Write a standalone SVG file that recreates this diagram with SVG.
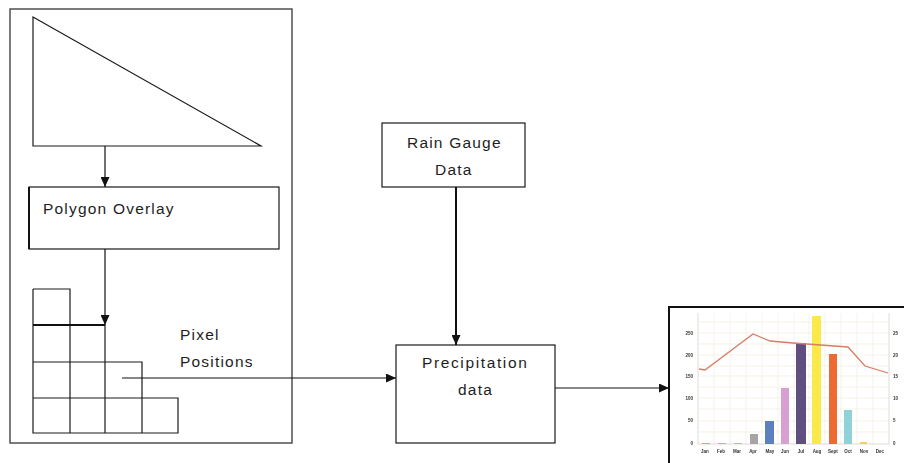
<svg xmlns="http://www.w3.org/2000/svg" width="904" height="463" viewBox="0 0 904 463">
  <style>
    .box { fill: #fff; stroke: #1a1a1a; stroke-width: 1.2; }
    .frame { fill: none; stroke: #444; stroke-width: 1.4; }
    .ln { fill: none; stroke: #1a1a1a; stroke-width: 1.2; }
    .lbl { font-family: "Liberation Sans", Arial, sans-serif; font-size: 15.5px; letter-spacing: 1.2px; fill: #1e1e1e; }
    .tiny { font-family: "Liberation Sans", Arial, sans-serif; font-size: 4.5px; fill: #333; font-weight: bold; }
    .grid { stroke: #f1e9d6; stroke-width: 0.6; fill: none; }
  </style>
  <defs>
    <marker id="arrow" markerUnits="userSpaceOnUse" markerWidth="10" markerHeight="9" refX="10" refY="4.5" orient="auto">
      <path d="M0,0 L10,4.5 L0,9 z" fill="#111"/>
    </marker>
    <filter id="soft" x="-5%" y="-5%" width="110%" height="110%">
      <feGaussianBlur stdDeviation="0.45"/>
    </filter>
  </defs>

  <rect width="904" height="463" fill="#fff"/>

  <!-- left panel frame -->
  <g id="panel">
    <rect class="frame" x="10" y="9" width="282" height="434"/>
  </g>

  <!-- polygon shape -->
  <g id="polygon">
    <path class="ln" d="M33,17 L33,146 L261,146 Z"/>
  </g>

  <!-- polygon overlay step -->
  <g id="overlay">
    <rect class="box" x="29" y="187" width="250" height="62"/>
    <line x1="29" y1="187" x2="29" y2="249" stroke="#111" stroke-width="2"/>
    <text class="lbl" x="43" y="214">Polygon Overlay</text>
  </g>

  <!-- pixel grid -->
  <g id="pixels">
    <path class="ln" d="M33,289 H70 V433 M33,289 V433 H178 V398 H33 M33,362 H142 V433 M105,325 V433 M70,325 H105"/>
    <line x1="33" y1="325" x2="105" y2="325" stroke="#111" stroke-width="2.2"/>
    <text class="lbl" x="180" y="340">Pixel</text>
    <text class="lbl" x="180" y="367">Positions</text>
  </g>

  <!-- rain gauge input -->
  <g id="rain-gauge">
    <rect class="box" x="382" y="123" width="143" height="64"/>
    <text class="lbl" x="407" y="148">Rain Gauge</text>
    <text class="lbl" x="435" y="175">Data</text>
  </g>

  <!-- precipitation data -->
  <g id="precipitation">
    <rect class="box" x="396" y="345" width="159" height="98"/>
    <text class="lbl" x="422" y="368" textLength="106" lengthAdjust="spacing">Precipitation</text>
    <text class="lbl" x="458" y="395">data</text>
  </g>

  <!-- output chart -->
  <g id="chart">
    <rect x="669" y="307" width="240" height="160" fill="#fff" stroke="#111" stroke-width="2"/>
    <g filter="url(#soft)">
      <!-- grid -->
      <path class="grid" d="M714,313 V444 M730,313 V444 M746,313 V444 M762,313 V444 M778,313 V444 M794,313 V444 M809,313 V444 M825,313 V444 M841,313 V444 M857,313 V444 M873,313 V444"/>
      <path class="grid" d="M698,322 H889 M698,333 H889 M698,344 H889 M698,355 H889 M698,366 H889 M698,376 H889 M698,387 H889 M698,398 H889 M698,409 H889 M698,421 H889 M698,432 H889"/>
      <line x1="698" y1="313" x2="698" y2="444" stroke="#d8d2cc" stroke-width="0.8"/>
      <line x1="889" y1="313" x2="889" y2="444" stroke="#d8d2cc" stroke-width="0.8"/>
      <line x1="698" y1="444" x2="889" y2="444" stroke="#d8d2cc" stroke-width="0.8"/>

      <!-- bars -->
      <rect x="702" y="443" width="8" height="1" fill="#e59a9a"/>
      <rect x="718" y="443" width="8" height="1" fill="#b5b5b5"/>
      <rect x="734" y="443" width="8" height="1" fill="#a8c9a0"/>
      <rect x="750" y="434" width="8" height="10" fill="#a8a3a6"/>
      <rect x="765" y="421" width="9" height="23" fill="#5b7fc0"/>
      <rect x="781" y="388" width="8" height="56" fill="#d89fd0"/>
      <rect x="796" y="343" width="10" height="101" fill="#5e4f80"/>
      <rect x="812" y="316" width="9" height="128" fill="#fbe94a"/>
      <rect x="829" y="354" width="8" height="90" fill="#ee6a30"/>
      <rect x="844" y="410" width="8" height="34" fill="#8fd3d9"/>
      <rect x="860" y="442" width="7" height="2" fill="#f3d060"/>

      <!-- temperature line -->
      <polyline points="699,369 705,370 753,334 770,341 793,343 848,347 865,366 888,373" fill="none" stroke="#d97b66" stroke-width="1.3"/>

      <!-- left axis -->
      <text class="tiny" x="693" y="335" text-anchor="end">250</text>
      <text class="tiny" x="693" y="357" text-anchor="end">200</text>
      <text class="tiny" x="693" y="378" text-anchor="end">150</text>
      <text class="tiny" x="693" y="400" text-anchor="end">100</text>
      <text class="tiny" x="693" y="422" text-anchor="end">50</text>
      <text class="tiny" x="693" y="445" text-anchor="end">0</text>
      <!-- right axis -->
      <text class="tiny" x="893" y="335">25</text>
      <text class="tiny" x="893" y="357">20</text>
      <text class="tiny" x="893" y="378">15</text>
      <text class="tiny" x="893" y="400">10</text>
      <text class="tiny" x="893" y="422">5</text>
      <text class="tiny" x="893" y="445">0</text>
      <!-- months -->
      <g class="tiny" text-anchor="middle">
        <text x="705" y="453">Jan</text>
        <text x="721" y="453">Feb</text>
        <text x="737" y="453">Mar</text>
        <text x="753" y="453">Apr</text>
        <text x="770" y="453">May</text>
        <text x="785" y="453">Jun</text>
        <text x="801" y="453">Jul</text>
        <text x="817" y="453">Aug</text>
        <text x="833" y="453">Sept</text>
        <text x="848" y="453">Oct</text>
        <text x="864" y="453">Nov</text>
        <text x="880" y="453">Dec</text>
      </g>
    </g>
  </g>

  <!-- connectors -->
  <g id="connectors" fill="none" stroke="#111" stroke-width="1.2">
    <line x1="105" y1="146" x2="105" y2="187" marker-end="url(#arrow)"/>
    <line x1="105" y1="249" x2="105" y2="325" marker-end="url(#arrow)"/>
    <line x1="122" y1="378" x2="396" y2="378" marker-end="url(#arrow)"/>
    <line x1="456" y1="187" x2="456" y2="345" stroke-width="2" marker-end="url(#arrow)"/>
    <line x1="555" y1="388" x2="669" y2="388" marker-end="url(#arrow)"/>
  </g>
</svg>
